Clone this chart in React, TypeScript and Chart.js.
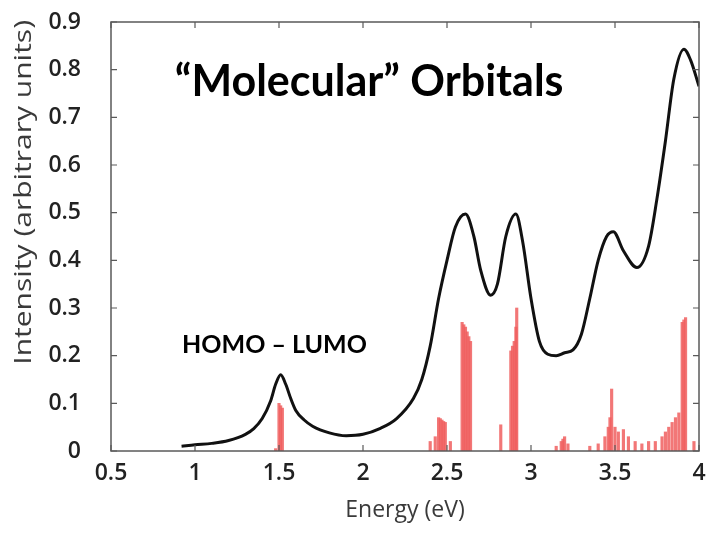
import React, { useEffect, useRef } from "react";
import { Chart, registerables } from "chart.js";

Chart.register(...registerables);

// Spectrum curve (Energy eV, Intensity)
const curveEnergy = [0.92, 1.0, 1.1, 1.2, 1.3, 1.35, 1.4, 1.45, 1.48, 1.51, 1.54, 1.57, 1.6, 1.65, 1.7, 1.8, 1.9, 2.0, 2.1, 2.2, 2.3, 2.35, 2.4, 2.45, 2.5, 2.55, 2.61, 2.66, 2.7, 2.76, 2.8, 2.85, 2.91, 2.95, 3.0, 3.05, 3.1, 3.15, 3.2, 3.25, 3.3, 3.35, 3.4, 3.45, 3.49, 3.55, 3.63, 3.7, 3.75, 3.8, 3.85, 3.91, 3.95, 4.0];
const curveIntensity = [0.01, 0.013, 0.016, 0.022, 0.035, 0.047, 0.068, 0.105, 0.14, 0.16, 0.14, 0.11, 0.085, 0.065, 0.052, 0.038, 0.032, 0.035, 0.047, 0.068, 0.11, 0.15, 0.22, 0.32, 0.4, 0.47, 0.497, 0.45, 0.38, 0.327, 0.35, 0.45, 0.497, 0.44, 0.32, 0.23, 0.203, 0.2, 0.206, 0.212, 0.245, 0.32, 0.4, 0.45, 0.46, 0.42, 0.385, 0.43, 0.53, 0.65, 0.78, 0.843, 0.82, 0.765];

// Transition sticks
const stickEnergy = [1.48, 1.5, 1.51, 1.52, 2.4, 2.43, 2.45, 2.46, 2.47, 2.48, 2.49, 2.52, 2.59, 2.6, 2.61, 2.62, 2.63, 2.64, 2.82, 2.88, 2.89, 2.9, 2.91, 2.915, 3.15, 3.18, 3.19, 3.2, 3.22, 3.35, 3.4, 3.44, 3.46, 3.47, 3.48, 3.5, 3.52, 3.55, 3.58, 3.62, 3.66, 3.7, 3.74, 3.78, 3.8, 3.82, 3.84, 3.86, 3.88, 3.9, 3.91, 3.92, 3.97];
const stickIntensity = [0.005, 0.1, 0.095, 0.09, 0.02, 0.03, 0.07, 0.068, 0.065, 0.062, 0.06, 0.02, 0.27, 0.265, 0.26, 0.25, 0.24, 0.23, 0.055, 0.21, 0.22, 0.23, 0.26, 0.3, 0.01, 0.02, 0.025, 0.03, 0.015, 0.01, 0.015, 0.03, 0.05, 0.07, 0.13, 0.05, 0.04, 0.045, 0.03, 0.02, 0.015, 0.02, 0.02, 0.03, 0.04, 0.05, 0.06, 0.07, 0.08, 0.27, 0.275, 0.28, 0.02];

const xTickValues = [0.5, 1, 1.5, 2, 2.5, 3, 3.5, 4];
const xTickLabels = ["0.5", "1", "1.5", "2", "2.5", "3", "3.5", "4"];
const yTickValues = [0, 0.1, 0.2, 0.3, 0.4, 0.5, 0.6, 0.7, 0.8, 0.9];
const yTickLabels = ["0", "0.1", "0.2", "0.3", "0.4", "0.5", "0.6", "0.7", "0.8", "0.9"];

const xTitle = "Energy (eV)";
const yTitle = "Intensity (arbitrary units)";
const titleText = "\u201CMolecular\u201D Orbitals";
const homoLumoText = "HOMO \u2013 LUMO";

const labelFor = (vals: number[], labels: string[], v: number) => {
  const i = vals.findIndex((t) => Math.abs(t - v) < 1e-6);
  return i >= 0 ? labels[i] : "";
};

const frameAndTicks = {
  id: "frameAndTicks",
  afterDraw(chart: any) {
    const { ctx, chartArea: a, scales } = chart;
    ctx.save();
    ctx.strokeStyle = "#5a5a5a";
    ctx.lineWidth = 1.5;
    ctx.strokeRect(a.left, a.top, a.right - a.left, a.bottom - a.top);
    ctx.lineWidth = 1.2;
    ctx.beginPath();
    for (const v of xTickValues) {
      const px = scales.x.getPixelForValue(v);
      ctx.moveTo(px, a.bottom);
      ctx.lineTo(px, a.bottom - 6);
      ctx.moveTo(px, a.top);
      ctx.lineTo(px, a.top + 6);
    }
    for (const v of yTickValues) {
      const py = scales.y.getPixelForValue(v);
      ctx.moveTo(a.left, py);
      ctx.lineTo(a.left + 6, py);
      ctx.moveTo(a.right, py);
      ctx.lineTo(a.right - 6, py);
    }
    ctx.stroke();
    // y axis title (stretched along its length like the reference)
    ctx.save();
    ctx.fillStyle = "#3a3a3a";
    ctx.font = "24px 'Open Sans'";
    ctx.textAlign = "right";
    ctx.textBaseline = "middle";
    ctx.translate(24, a.top - 2);
    ctx.rotate(-Math.PI / 2);
    ctx.scale(1.25, 1);
    ctx.fillText(yTitle, 0, 0);
    ctx.restore();
    // annotations
    ctx.fillStyle = "#000";
    ctx.textAlign = "left";
    ctx.textBaseline = "middle";
    ctx.font = "bold 43px Lato";
    ctx.fillText(titleText, scales.x.getPixelForValue(0.88), scales.y.getPixelForValue(0.774));
    ctx.font = "bold 25px Lato";
    ctx.fillText(homoLumoText, scales.x.getPixelForValue(0.923), scales.y.getPixelForValue(0.222));
    ctx.restore();
  },
};

export default function App() {
  const ref = useRef<HTMLCanvasElement>(null);
  useEffect(() => {
    if (!ref.current) return;
    const chart = new Chart(ref.current, {
      type: "bar",
      data: {
        datasets: [
          {
            type: "line",
            data: curveEnergy.map((x, i) => ({ x, y: curveIntensity[i] })),
            borderColor: "#111",
            borderWidth: 3,
            pointRadius: 0,
            cubicInterpolationMode: "monotone",
            fill: false,
            order: 0,
          } as any,
          {
            type: "bar",
            data: stickEnergy.map((x, i) => ({ x, y: stickIntensity[i] })),
            backgroundColor: "rgba(240, 95, 95, 0.85)",
            barThickness: 2.5,
            order: 1,
          } as any,
        ],
      },
      options: {
        responsive: false,
        animation: false,
        layout: { padding: { left: 0, right: 8, top: 22, bottom: 0 } },
        plugins: { legend: { display: false }, tooltip: { enabled: false } },
        scales: {
          x: {
            type: "linear",
            min: 0.5,
            max: 4,
            offset: false,
            grid: { display: false, drawTicks: false },
            border: { display: false },
            ticks: {
              stepSize: 0.5,
              padding: 9,
              color: "#222",
              font: { family: "Open Sans", size: 23, weight: "600" },
              maxRotation: 0,
              autoSkip: false,
              callback: (v: any) => labelFor(xTickValues, xTickLabels, Number(v)),
            },
            title: {
              display: true,
              text: xTitle,
              color: "#3a3a3a",
              font: { family: "Open Sans", size: 23, weight: "normal" },
              padding: { top: 0, bottom: 9 },
            },
            afterFit(scale: any) {
              scale.height = 82;
              scale.paddingLeft = 0;
              scale.paddingRight = 0;
            },
          } as any,
          y: {
            min: 0,
            max: 0.9,
            grid: { display: false, drawTicks: false },
            border: { display: false },
            ticks: {
              stepSize: 0.1,
              padding: 30,
              color: "#222",
              font: { family: "Open Sans", size: 23, weight: "600" },
              callback: (v: any) => labelFor(yTickValues, yTickLabels, Number(v)),
            },
            title: { display: false },
            afterFit(scale: any) {
              scale.width = 111;
              scale.paddingTop = 0;
              scale.paddingBottom = 0;
            },
          } as any,
        },
      },
      plugins: [frameAndTicks],
    });
    return () => chart.destroy();
  }, []);
  return (
    <div style={{ position: "fixed", left: 0, top: 0, width: 707, height: 533, background: "#fff" }}>
      <canvas ref={ref} width={707} height={533} />
    </div>
  );
}
